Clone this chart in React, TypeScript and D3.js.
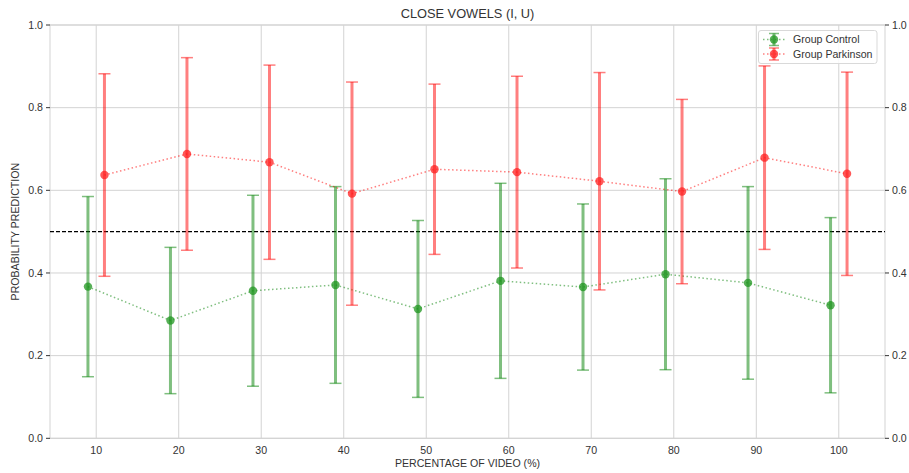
import React from "react";
import * as d3 from "d3";

const xTicks = [10, 20, 30, 40, 50, 60, 70, 80, 90, 100];
const yTicks = [0.0, 0.2, 0.4, 0.6, 0.8, 1.0];
const controlX = [9, 19, 29, 39, 49, 59, 69, 79, 89, 99];
const controlMean = [0.367, 0.285, 0.357, 0.371, 0.313, 0.381, 0.366, 0.397, 0.376, 0.322];
const controlErr = [0.218, 0.177, 0.231, 0.238, 0.214, 0.236, 0.201, 0.231, 0.233, 0.212];
const parkX = [11, 21, 31, 41, 51, 61, 71, 81, 91, 101];
const parkMean = [0.637, 0.688, 0.668, 0.592, 0.651, 0.644, 0.622, 0.597, 0.679, 0.640];
const parkErr = [0.245, 0.233, 0.235, 0.270, 0.206, 0.232, 0.263, 0.223, 0.222, 0.246];
const threshold = 0.5;

const W = 909;
const H = 473;
const M = { left: 50, right: 885, top: 25, bottom: 438.3 };
const FONT = "'Liberation Sans', Arial, sans-serif";

export default function App() {
  const x = d3.scaleLinear().domain([4.4, 105.6]).range([M.left, M.right]);
  const y = d3.scaleLinear().domain([0, 1]).range([M.bottom, M.top]);
  const line = d3.line<[number, number]>().x((d) => x(d[0])).y((d) => y(d[1]));

  const series = [
    { name: "Group Control", xs: controlX, mean: controlMean, err: controlErr, color: "green", mark: "#1f961f" },
    { name: "Group Parkinson", xs: parkX, mean: parkMean, err: parkErr, color: "red", mark: "#ff2020" },
  ];

  const capW = 6;
  const fs = 10.6;

  return (
    <svg width={W} height={H} style={{ position: "absolute", left: 0, top: 0, background: "#fff" }} fontFamily={FONT}>
      {/* grid */}
      {xTicks.map((t) => (
        <line key={"gx" + t} x1={x(t)} x2={x(t)} y1={M.top} y2={M.bottom} stroke="#d3d3d3" strokeWidth={1} />
      ))}
      {yTicks.map((t) => (
        <line key={"gy" + t} x1={M.left} x2={M.right} y1={y(t)} y2={y(t)} stroke="#d3d3d3" strokeWidth={1} />
      ))}
      {/* frame */}
      <rect x={M.left} y={M.top} width={M.right - M.left} height={M.bottom - M.top} fill="none" stroke="#d3d3d3" strokeWidth={1} />
      {/* threshold */}
      <line x1={M.left} x2={M.right} y1={y(threshold)} y2={y(threshold)} stroke="#000" strokeWidth={1.1} strokeDasharray="4,2" />

      {series.map((s) => (
        <g key={s.name}>
          <path
            d={line(s.xs.map((v, i) => [v, s.mean[i]]) as [number, number][]) || ""}
            fill="none"
            stroke={s.color}
            strokeOpacity={0.5}
            strokeWidth={1.5}
            strokeDasharray="1.5,2.5"
          />
          {s.xs.map((v, i) => (
            <g key={i} stroke={s.color} strokeOpacity={0.5} strokeWidth={3}>
              <line x1={x(v)} x2={x(v)} y1={y(s.mean[i] - s.err[i])} y2={y(s.mean[i] + s.err[i])} />
              <line x1={x(v) - capW} x2={x(v) + capW} y1={y(s.mean[i] + s.err[i])} y2={y(s.mean[i] + s.err[i])} strokeWidth={1.5} />
              <line x1={x(v) - capW} x2={x(v) + capW} y1={y(s.mean[i] - s.err[i])} y2={y(s.mean[i] - s.err[i])} strokeWidth={1.5} />
            </g>
          ))}
          {s.xs.map((v, i) => (
            <circle key={"m" + i} cx={x(v)} cy={y(s.mean[i])} r={4.2} fill={s.mark} fillOpacity={0.75} />
          ))}
        </g>
      ))}

      {/* axes */}
      {yTicks.map((t) => (
        <g key={"ly" + t}>
          <line x1={M.left - 4} x2={M.left} y1={y(t)} y2={y(t)} stroke="#333" strokeWidth={1} />
          <text x={M.left - 7} y={y(t)} dy="0.35em" textAnchor="end" fontSize={fs} fill="#333">
            {t.toFixed(1)}
          </text>
          <line x1={M.right} x2={M.right + 4} y1={y(t)} y2={y(t)} stroke="#333" strokeWidth={1} />
          <text x={M.right + 7} y={y(t)} dy="0.35em" textAnchor="start" fontSize={fs} fill="#333">
            {t.toFixed(1)}
          </text>
        </g>
      ))}
      {xTicks.map((t) => (
        <text key={"xt" + t} x={x(t)} y={M.bottom + 16} textAnchor="middle" fontSize={fs} fill="#333">
          {t}
        </text>
      ))}

      <text x={(M.left + M.right) / 2} y={467} textAnchor="middle" fontSize={fs} fill="#333">
        PERCENTAGE OF VIDEO (%)
      </text>
      <text
        transform={`translate(19,${(M.top + M.bottom) / 2}) rotate(-90)`}
        textAnchor="middle"
        fontSize={fs}
        fill="#333"
      >
        PROBABILITY PREDICTION
      </text>
      <text x={(M.left + M.right) / 2} y={18} textAnchor="middle" fontSize={12.8} fill="#333">
        CLOSE VOWELS (I, U)
      </text>

      {/* legend */}
      <rect x={758.5} y={30.5} width={118.5} height={33} rx={2.5} fill="#fff" fillOpacity={0.85} stroke="#d9d9d9" strokeWidth={1} />
      {series.map((s, i) => {
        const cy = 39.5 + i * 14.5;
        const cx = 774;
        return (
          <g key={"lg" + s.name}>
            <line x1={763} x2={785} y1={cy} y2={cy} stroke={s.color} strokeOpacity={0.5} strokeWidth={1.5} strokeDasharray="1.5,2.5" />
            <g stroke={s.color} strokeOpacity={0.5}>
              <line x1={cx} x2={cx} y1={cy - 6} y2={cy + 6} strokeWidth={3} />
              <line x1={cx - 5} x2={cx + 5} y1={cy - 6} y2={cy - 6} strokeWidth={1.5} />
              <line x1={cx - 5} x2={cx + 5} y1={cy + 6} y2={cy + 6} strokeWidth={1.5} />
            </g>
            <circle cx={cx} cy={cy} r={4.2} fill={s.mark} fillOpacity={0.75} />
            <text x={793} y={cy} dy="0.35em" fontSize={fs} fill="#333">
              {s.name}
            </text>
          </g>
        );
      })}
    </svg>
  );
}
